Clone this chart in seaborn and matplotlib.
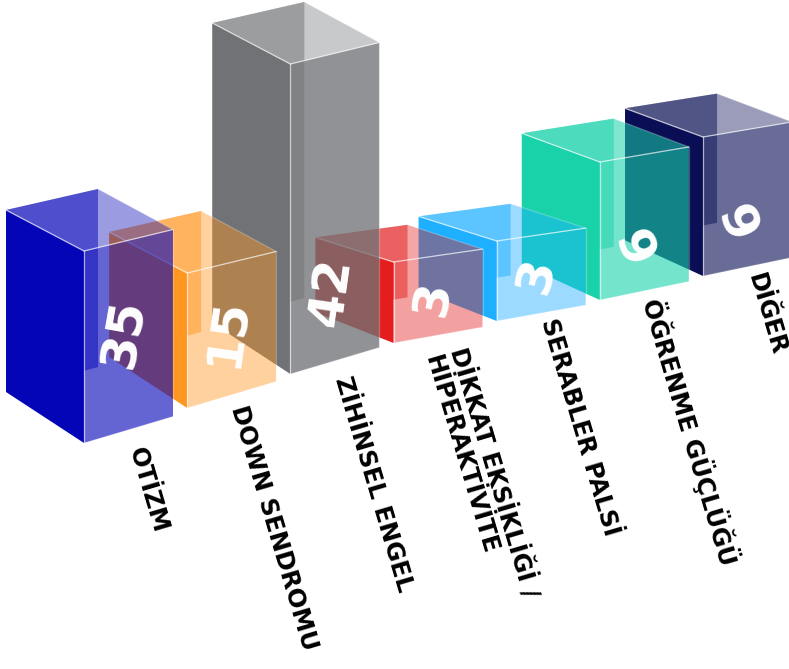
import matplotlib
matplotlib.use("Agg")
import matplotlib.pyplot as plt
import seaborn as sns
from matplotlib.colors import to_rgba
from matplotlib.patches import Polygon

# data
categories = ["OTİZM", "DOWN SENDROMU", "ZİHİNSEL ENGEL", "DİKKAT EKSİKLİĞİ /\nHİPERAKTİVİTE",
              "SERABLER PALSİ", "ÖĞRENME GÜÇLÜĞÜ", "DİĞER"]
value_labels = ["35", "15", "42", "3", "3", "6", "6"]
# drawn bar heights (not proportional to the labels)
bar_heights = [192, 135, 310, 81, 80, 138, 139]

# layout of the fake 3D scene
colors = ["#0505B8", "#FF9620", "#707275", "#E41E1E", "#1EAFFF", "#19D2AA", "#0A0F55"]
right_alpha = [0.62, 0.43, 0.77, 0.42, 0.44, 0.60, 0.61]
top_alpha = [0.40, 0.43, 0.38, 0.40, 0.44, 0.55, 0.41]
floor_rise = [0, 35, 69, 100, 122, 143, 167]
tilt = [1, 1, 1, 0.6, 0.6, 0.7, 0.7]
label_lift = [110, 75, 82, 45, 46, 60, 61]
label_angle = [80, 82, 82, 80, 75, 112, 112]
name_drop = [5, -2, 3, 9, -2, -1, -2]
step = 103.17  # pixels per category

sns.set_theme(style="white")
plt.rcParams["font.family"] = ["DejaVu Sans"]

fig = plt.figure(figsize=(7.89, 6.69), dpi=100)
ax = fig.add_axes([0, 0, 1, 1])
sns.barplot(x=categories, y=bar_heights, ax=ax, width=0.8, legend=False)
ax.set_xlim(-84 / step, (789 - 84) / step)
ax.set_ylim(443 - 669, 443)
ax.axis("off")


def face(i, rise, points, color, alpha, z):
    pts = [(i + dx / step, rise + dy) for dx, dy in points]
    ax.add_patch(Polygon(pts, closed=True, facecolor=to_rgba(color, alpha), edgecolor="none", zorder=z))


# seaborn gives the bars, each one is then rebuilt as a box
bars = list(ax.patches)
for i, bar in enumerate(bars):
    h = bar.get_height()
    bar.remove()
    t = tilt[i]
    c = colors[i]
    r = floor_rise[i]
    z = 10 + (len(bars) - i) * 5

    L = (-78, h + 41 * t)
    B = (14, h + 62 * t)
    R = (89, h + 21.5 * t)
    F = (0, h)
    FB = (0, 0)
    LB = (-78, 51 * t)
    BB = (14, 76 * t)
    RB = (89, 26.5 * t)

    face(i, r, [L, B, BB, LB], c, 0.5, z)
    face(i, r, [L, F, FB, LB], c, 1, z + 1)
    face(i, r, [F, R, RB, FB], c, right_alpha[i], z + 2)
    face(i, r, [L, B, R, F], c, top_alpha[i], z + 3)

    # thin light edges on the front corner
    for p, q, a in [(L, F, 0.7), (F, R, 0.7), (F, FB, 0.6), (B, R, 0.25), (R, RB, 0.25), (FB, RB, 0.2)]:
        ax.plot([i + p[0] / step, i + q[0] / step], [r + p[1], r + q[1]],
                color="white", alpha=a, lw=0.9, zorder=z + 4, solid_capstyle="round")

    ax.text(i + 40 / step, r + label_lift[i], value_labels[i], color="white", fontsize=36,
            fontweight="bold", rotation=label_angle[i], ha="center", va="center",
            rotation_mode="anchor", zorder=100)
    ax.text(i + 51 / step, r - name_drop[i], categories[i], color="black", fontsize=17.5, fontweight="bold",
            rotation=-73.5, ha="left", va="center", rotation_mode="anchor", linespacing=1.1,
            zorder=100)

fig.savefig("out.png", dpi=100)
